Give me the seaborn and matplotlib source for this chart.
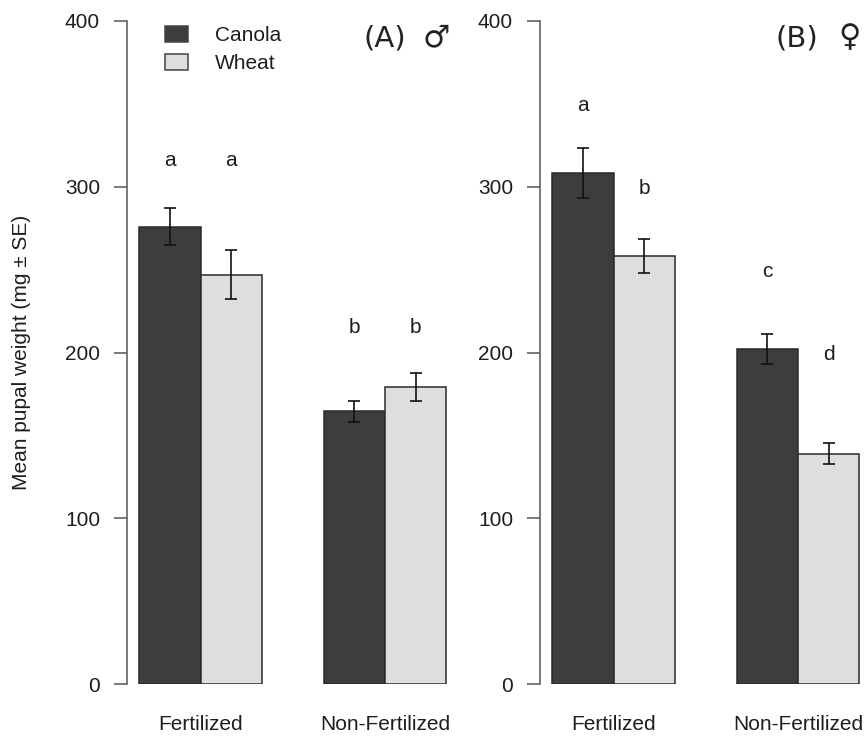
import numpy as np
import pandas as pd
import matplotlib
matplotlib.use("Agg")
import matplotlib.pyplot as plt
from matplotlib.patches import Patch
import seaborn as sns

# Mean pupal weight (mg) and standard errors by sex, treatment and host crop
treatments = ["Fertilized", "Non-Fertilized"]
crops = ["Canola", "Wheat"]

male_mean = [276, 247, 164.5, 179]        # Fert-Canola, Fert-Wheat, NonFert-Canola, NonFert-Wheat
male_se = [11, 15, 6.5, 8.5]
female_mean = [308.5, 258, 202, 139]
female_se = [15, 10.3, 9, 6.5]

male_letters = ["a", "a", "b", "b"]
female_letters = ["a", "b", "c", "d"]
male_letter_y = [316, 316, 215, 215]
female_letter_y = [349, 299, 249, 199]

panel_tags = ["(A)", "(B)"]
panel_symbols = ["\u2642", "\u2640"]
y_ticks = [0, 100, 200, 300, 400]

crop_colors = {"Canola": "#3d3d3d", "Wheat": "#dedede"}

sns.set_theme(style="white")
plt.rcParams["font.family"] = ["Liberation Sans", "DejaVu Sans"]
TXT = "#1e1e1e"
AXC = "#555555"
FS = 15


def make_frame(means, ses):
    rows = []
    k = 0
    for t in treatments:
        for c in crops:
            rows.append({"treatment": t, "crop": c, "mean": means[k], "se": ses[k]})
            k += 1
    return pd.DataFrame(rows)


W, H = 865, 736
fig = plt.figure(figsize=(W / 100, H / 100), dpi=100)

ax_w = 331.6                 # axes width in pixels (x range of 1.8 units)
px_per_unit = ax_w / 1.8
y0_px, y1_px = 684, 21
axes_left_px = [127, 540]

panels = [
    (make_frame(male_mean, male_se), male_letters, male_letter_y),
    (make_frame(female_mean, female_se), female_letters, female_letter_y),
]

for i, (df, letters, letter_y) in enumerate(panels):
    ax = fig.add_axes([axes_left_px[i] / W, (H - y0_px) / H,
                       ax_w / W, (y0_px - y1_px) / H])
    sns.barplot(data=df, x="treatment", y="mean", hue="crop",
                order=treatments, hue_order=crops, palette=crop_colors,
                width=2 / 3, gap=0, errorbar=None, legend=False,
                edgecolor="#2a2a2a", linewidth=1.1, saturation=1, ax=ax)

    bars = sorted(ax.patches, key=lambda p: p.get_x())
    centers = [b.get_x() + b.get_width() / 2 for b in bars]
    ax.errorbar(centers, df["mean"], yerr=df["se"], fmt="none",
                ecolor="#111111", elinewidth=1.2, capsize=4.3, capthick=1.2,
                zorder=5)
    for cx, lab, ly in zip(centers, letters, letter_y):
        ax.text(cx, ly, lab, ha="center", va="center", fontsize=FS, color=TXT)

    ax.set_xlim(-0.4, 1.4)
    ax.set_ylim(0, 400)
    ax.set_yticks(y_ticks)
    ax.set_xlabel("")
    ax.set_ylabel("")
    for s in ["top", "right", "bottom"]:
        ax.spines[s].set_visible(False)
    ax.spines["left"].set_color(AXC)
    ax.spines["left"].set_linewidth(1.1)
    ax.spines["left"].set_bounds(0, 400)
    ax.tick_params(axis="y", which="major", direction="out", length=9.4,
                   width=1.1, color=AXC, pad=10, labelsize=FS, labelcolor=TXT,
                   left=True)
    ax.tick_params(axis="x", length=0, pad=22, labelsize=FS, labelcolor=TXT)
    ax.patch.set_alpha(0)

    # panel tag and sex symbol
    tag_x = -0.4 + 236 / px_per_unit
    sym_x = tag_x + 73.5 / px_per_unit
    ax.text(tag_x, 389.7, panel_tags[i], ha="left", va="center", fontsize=21,
            color="#222222", family=["DejaVu Sans"])
    ax.text(sym_x, 389.7, panel_symbols[i], ha="center", va="center",
            fontsize=22, color="#222222", family=["DejaVu Sans"])

    if i == 0:
        handles = [Patch(facecolor=crop_colors[c], edgecolor="#444444",
                         linewidth=1.1) for c in crops]
        ax.legend(handles, crops, loc="upper left",
                  bbox_to_anchor=(165 / W, 1 - 26 / H),
                  bbox_transform=fig.transFigure, frameon=False,
                  fontsize=FS, handlelength=1.1, handleheight=0.77,
                  handletextpad=1.3, labelspacing=0.45, borderpad=0,
                  borderaxespad=0, labelcolor=TXT)

fig.text(22 / W, 1 - 352.5 / H, "Mean pupal weight (mg \u00b1 SE)",
         rotation=90, ha="center", va="center", fontsize=FS, color=TXT)

fig.savefig("out.png", dpi=100)
